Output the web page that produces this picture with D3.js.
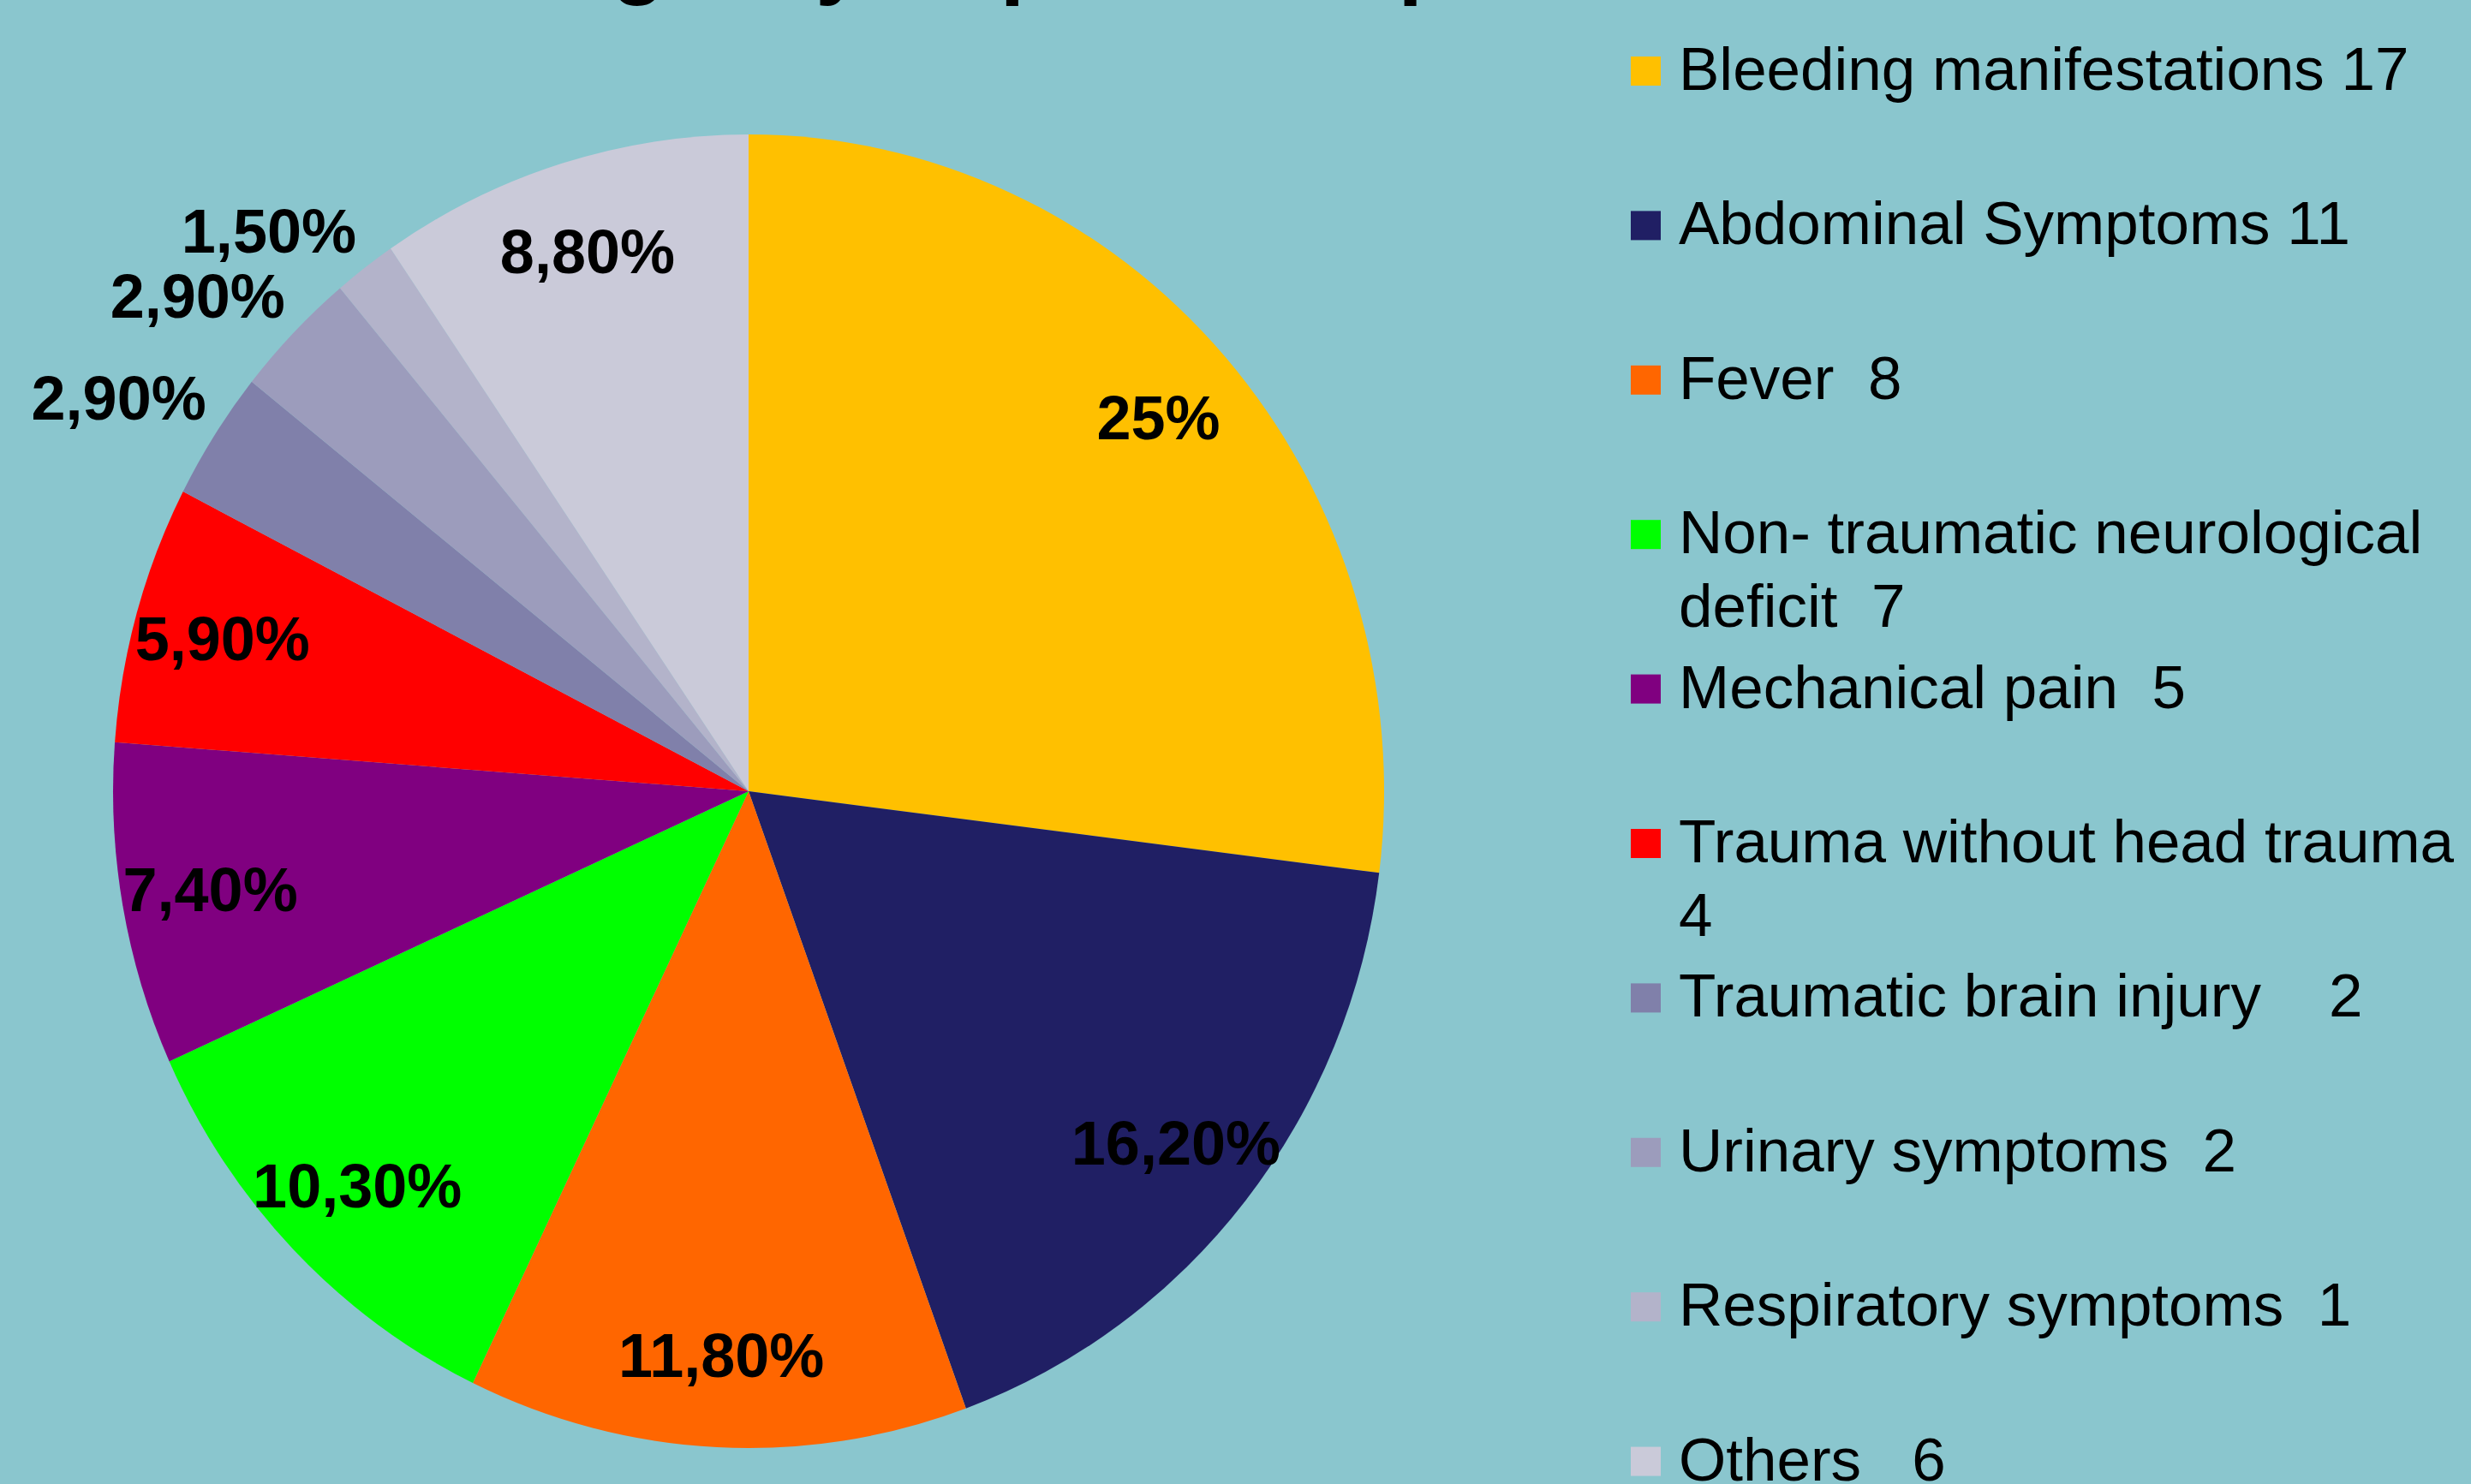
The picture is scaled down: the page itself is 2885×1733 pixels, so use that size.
<!DOCTYPE html>
<html>
<head>
<meta charset="utf-8">
<title>Emergency symptoms pie</title>
<script src="https://d3js.org/d3.v7.min.js"></script>
<style>
  body { margin: 0; background: #8AC6CE; overflow: hidden; }
  text { font-family: "Liberation Sans", Arial, sans-serif; }
  .pct { font-weight: bold; font-size: 72px; fill: #000; }
  .leg { font-size: 71px; fill: #000; white-space: pre; }
</style>
</head>
<body>
<svg id="chart" width="2885" height="1733"></svg>
<script>
// data
const categories = ["Bleeding manifestations", "Abdominal Symptoms", "Fever",
  "Non- traumatic neurological deficit", "Mechanical pain", "Trauma without head trauma",
  "Traumatic brain injury", "Urinary symptoms", "Respiratory symptoms", "Others"];
const counts = [17, 11, 8, 7, 5, 4, 2, 2, 1, 6];
const pctLabels = ["25%", "16,20%", "11,80%", "10,30%", "7,40%", "5,90%", "2,90%", "2,90%", "1,50%", "8,80%"];
const legendLabels = ["Bleeding manifestations 17", "Abdominal Symptoms 11", "Fever  8",
  "Non- traumatic neurological\ndeficit  7", "Mechanical pain  5", "Trauma without head trauma\n4",
  "Traumatic brain injury    2", "Urinary symptoms  2", "Respiratory symptoms  1", "Others   6"];
const colors = ["#FFC000", "#201F64", "#FF6600", "#00FF00", "#800080", "#FF0000",
  "#8080AA", "#9C9CBC", "#B3B3CA", "#CACAD9"];
const titleText = "Emergency Department presentation";

const svg = d3.select("#chart");
const cx = 874, cy = 924;
const rx = 742, ry = 767;

// title sits mostly above the visible area
svg.append("text")
  .attr("x", 459).attr("y", -14)
  .style("font-weight", "bold").style("font-size", "102px")
  .text(titleText);

const color = d3.scaleOrdinal().domain(categories).range(colors);
const pie = d3.pie().sort(null).value(d => d.count);
const arcs = pie(categories.map((c, i) => ({name: c, count: counts[i], pct: pctLabels[i]})));
const total = d3.sum(counts);

// pie is drawn as circle with radius rx and stretched vertically
const g = svg.append("g")
  .attr("transform", "translate(" + cx + "," + cy + ") scale(1," + (ry / rx) + ")");
const arc = d3.arc().innerRadius(0).outerRadius(rx);

g.selectAll("path.slice").data(arcs)
  .join("path")
  .attr("class", "slice")
  .attr("fill", d => color(d.data.name))
  .attr("d", arc);

// labels: inside for big slices, outside (upper left) for small ones
const labels = svg.append("g").attr("transform", "translate(" + cx + "," + cy + ")");
labels.selectAll("text").data(arcs)
  .join("text")
  .attr("class", "pct")
  .attr("text-anchor", d => d.data.count / total < 0.04 ? "end" : "middle")
  .attr("dy", "0.35em")
  .attr("x", d => {
    const a = (d.startAngle + d.endAngle) / 2;
    if (d.data.count / total < 0.04) return rx * Math.sin(a) - 10;
    return 0.86 * rx * Math.sin(a);
  })
  .attr("y", d => {
    const a = (d.startAngle + d.endAngle) / 2;
    if (d.data.count / total < 0.04) return -ry * Math.cos(a) - 43;
    return -0.86 * ry * Math.cos(a);
  })
  .text(d => d.data.pct);

// legend
const legY = d3.scaleLinear().domain([0, legendLabels.length - 1]).range([105, 105 + 180.4 * 9]);
const leg = svg.append("g");
const items = leg.selectAll("g").data(legendLabels).join("g")
  .attr("transform", (d, i) => "translate(1904," + legY(i) + ")");
items.append("rect")
  .attr("x", 0).attr("y", -39).attr("width", 35).attr("height", 34)
  .attr("fill", (d, i) => colors[i]);
items.append("text")
  .attr("class", "leg")
  .attr("x", 56)
  .selectAll("tspan").data(d => d.split("\n")).join("tspan")
  .attr("x", 56)
  .attr("dy", (d, j) => j === 0 ? 0 : 86)
  .text(d => d);
</script>
</body>
</html>
